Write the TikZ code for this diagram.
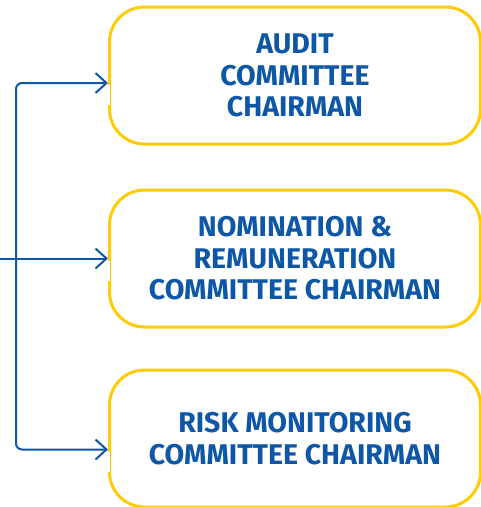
\documentclass[tikz,border=0pt]{standalone}
\usepackage{fontspec}
\setmainfont{Fira Sans}
\usetikzlibrary{positioning, arrows.meta}
\definecolor{boardblue}{HTML}{0D57A6}
\definecolor{boardgold}{HTML}{FFCB05}

\tikzset{
    chairbox/.style={draw=boardgold, line width=3pt, rounded corners=35pt,
        minimum width=371pt, minimum height=137pt, align=center,
        text=boardblue, font=\fontsize{28.5}{31.5}\selectfont\bfseries},
    link/.style={draw=boardblue, line width=2pt, rounded corners=6pt,
        -{Straight Barb[length=11pt, width=20pt]}},
}

\begin{document}
\begin{tikzpicture}[x=1pt, y=-1pt]
        \useasboundingbox (0,0) rectangle (481,507);

        \node[chairbox] (audit) at (295,75.5) {AUDIT\\COMMITTEE\\CHAIRMAN};
        \node[chairbox, below = 43pt of audit] (nomination) {NOMINATION \&\\REMUNERATION\\COMMITTEE CHAIRMAN};
        \node[chairbox, below = 40pt of nomination] (risk) {RISK MONITORING\\COMMITTEE CHAIRMAN};

        % arrow entry points on the left sides
        \coordinate (auditin) at ([yshift=-7.5pt]audit.west);
        \coordinate (nominationin) at (nomination.west);
        \coordinate (riskin) at ([yshift=-11pt]risk.west);

        % small breaks in the frame under each arrow
        \foreach \b in {auditin, nominationin, riskin}
            \draw[white, line width=4pt] ([yshift=-2pt]\b) -- ([yshift=-22pt]\b);

        \coordinate (feed) at (0,258.5);
        \coordinate (spine) at (16,258.5);
        \draw[link] (feed) -- (nominationin);
        \draw[link] (spine) |- (auditin);
        \draw[link] (spine) |- (riskin);
    \end{tikzpicture}
\end{document}
